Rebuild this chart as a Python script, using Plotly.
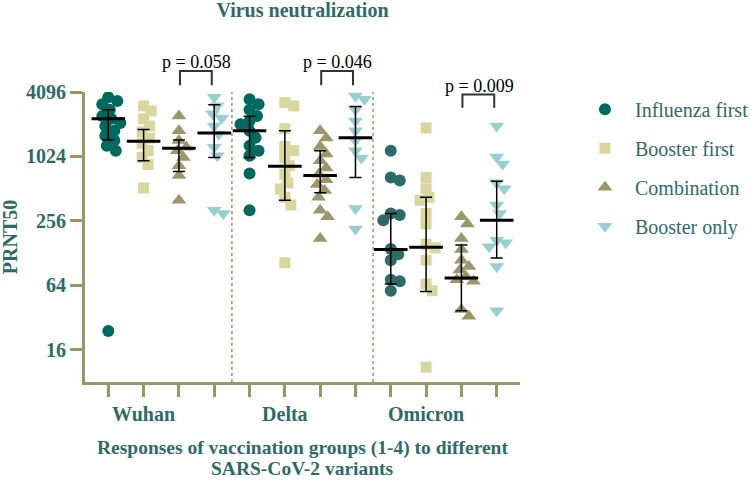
import math
import plotly.graph_objects as go

# ---------------- data ----------------
variants = ["Wuhan", "Delta", "Omicron"]
groups = ["Influenza first", "Booster first", "Combination", "Booster only"]

# PRNT50 values per group, per variant [Wuhan, Delta, Omicron]
influenza_first = [
    [3650, 3380, 3150, 2800, 2450, 2300, 2100, 1975, 1780, 1600, 1440, 1290, 1160, 24],
    [3500, 3150, 2800, 2450, 2200, 2050, 1780, 1530, 1290, 1160, 1040, 710, 322],
    [1160, 650, 610, 300, 290, 260, 140, 125, 110, 72, 70, 57],
]
booster_first = [
    [3040, 2720, 2300, 1975, 1740, 1520, 1360, 1160, 1000, 860, 520],
    [3260, 3040, 1860, 1270, 1160, 1000, 840, 700, 580, 510, 425, 360, 104],
    [1890, 650, 510, 425, 398, 300, 240, 155, 143, 110, 66, 57, 11],
]
combination = [
    [2450, 1780, 1440, 1250, 1160, 1000, 840, 680, 400],
    [1780, 1520, 1270, 1080, 935, 800, 700, 620, 560, 493, 425, 322, 280, 175],
    [280, 240, 175, 138, 110, 96, 89, 77, 72, 70, 38, 33],
]
booster_only = [
    [3650, 3040, 2570, 2330, 1975, 1660, 1250, 1040, 322, 300],
    [3750, 3500, 2800, 2200, 1780, 1440, 1160, 990, 335, 215],
    [1975, 1010, 870, 580, 510, 360, 300, 169, 160, 147, 96, 37],
]

# geometric means and error-bar limits, ordered Wuhan(1-4), Delta(1-4), Omicron(1-4)
geo_mean = [2300, 1420, 1220, 1700, 1780, 830, 680, 1530, 138, 145, 75, 260]
err_low = [1460, 935, 740, 1000, 1000, 400, 470, 650, 66, 56, 37, 115]
err_high = [2800, 1830, 1460, 3120, 2430, 1780, 1160, 3000, 300, 425, 152, 600]

# comparisons (column index pairs) and p-values
comparisons = [(2, 3), (6, 7), (10, 11)]
p_labels = ["p = 0.058", "p = 0.046", "p = 0.009"]

y_ticks = [16, 64, 256, 1024, 4096]
x_title_lines = ["Responses of vaccination groups (1-4) to different", "SARS-CoV-2 variants"]

# ---------------- styles ----------------
TEAL_TXT = "#2e6b68"
OLIVE = "#9b9669"
FONT = "Liberation Serif"
series = [
    (influenza_first, "circle", 12, ["#00695f", "#00695f", "#2d6a68"]),
    (booster_first, "square", 11, ["#d9d6a0"] * 3),
    (combination, "triangle-up", 13, ["#9c976a"] * 3),
    (booster_only, "triangle-down", 13, ["#99cfd0"] * 3),
]

PX_X = 35.3   # pixels per column
PX_Y = 32.3   # pixels per doubling


def swarm(vals, d=9.0, maxoff=12):
    order = sorted(range(len(vals)), key=lambda i: -vals[i])
    placed = []
    offs = [0.0] * len(vals)
    cands = [0.0]
    for k in range(1, int(maxoff / 1.5) + 1):
        cands += [1.5 * k, -1.5 * k]
    for i in order:
        y = math.log2(vals[i]) * PX_Y
        best, bestd = 0.0, -1
        for c in cands:
            md = min([math.hypot(c - px, y - py) for px, py in placed] or [1e9])
            if md >= d:
                best = c
                break
            if md > bestd:
                bestd, best = md, c
        placed.append((best, y))
        offs[i] = best / PX_X
    return offs


fig = go.Figure()

for gi, (data, sym, size, cols) in enumerate(series):
    xs, ys, cs = [], [], []
    for vi, vals in enumerate(data):
        pos = vi * 4 + gi
        offs = swarm(vals)
        xs += [pos + o for o in offs]
        ys += vals
        cs += [cols[vi]] * len(vals)
    fig.add_trace(go.Scatter(
        x=xs, y=ys, mode="markers", name=groups[gi], legendgroup=groups[gi],
        marker=dict(symbol=sym, size=size, color=cs, line=dict(width=0)),
    ))

positions = list(range(len(geo_mean)))
fig.add_trace(go.Scatter(
    x=positions, y=geo_mean, mode="markers", showlegend=False,
    marker=dict(symbol="line-ew", size=24, color="black",
                line=dict(width=3, color="black")),
    error_y=dict(type="data", symmetric=False,
                 array=[h - m for h, m in zip(err_high, geo_mean)],
                 arrayminus=[m - l for l, m in zip(err_low, geo_mean)],
                 color="black", thickness=1.5, width=6),
))

# separators between variants
shapes = []
for sep in [3.5, 7.5]:
    shapes.append(dict(type="line", xref="x", yref="paper", x0=sep, x1=sep, y0=0, y1=1,
                       line=dict(color=OLIVE, width=1.5, dash="dot")))

# brackets with p-values
bracket_levels = [(1.072, 1.023, 1.103), (1.072, 1.023, 1.103), (0.991, 0.946, 1.022)]
annotations = []
for (a, b), lab, (top, bot, ty) in zip(comparisons, p_labels, bracket_levels):
    xa, xb = a + 0.03, b - 0.07
    shapes.append(dict(type="path", xref="x", yref="paper",
                       path=f"M {xa},{bot} L {xa},{top} L {xb},{top} L {xb},{bot}",
                       line=dict(color="#333333", width=2)))
    annotations.append(dict(x=(a + b) / 2, y=ty, xref="x", yref="paper", text=lab,
                            showarrow=False, yanchor="middle",
                            font=dict(family=FONT, size=18, color="black")))

# x-axis title (two tightly spaced lines)
for txt, yy in zip(x_title_lines, [-0.2286, -0.2976]):
    annotations.append(dict(x=0.5, y=yy, xref="paper", yref="paper", text=txt,
                            showarrow=False, xanchor="center", yanchor="middle", height=20,
                            font=dict(family=FONT, size=19.5, color=TEAL_TXT, weight="bold")))
# y-axis title
annotations.append(dict(x=-0.172, y=0.5, xref="paper", yref="paper", text="PRNT50",
                        textangle=-90, showarrow=False, xanchor="center", yanchor="middle",
                        font=dict(family=FONT, size=20, color=TEAL_TXT, weight="bold")))

ticktext = []
for v in variants:
    ticktext += ["", v, "", ""]

fig.update_layout(
    width=750, height=482,
    margin=dict(l=85, r=230, t=92, b=100, autoexpand=False),
    paper_bgcolor="white", plot_bgcolor="white",
    title=dict(text="<b>Virus neutralization</b>", x=0.5, xref="paper",
               y=1 - 9.5 / 482, yref="container", yanchor="middle",
               font=dict(family=FONT, size=20, color=TEAL_TXT)),
    shapes=shapes, annotations=annotations,
    legend=dict(x=1.1264, y=1.008, xanchor="left", yanchor="top",
                font=dict(family=FONT, size=20, color=TEAL_TXT),
                tracegroupgap=10, itemwidth=50, bgcolor="rgba(0,0,0,0)"),
    xaxis=dict(range=[-0.66, 11.66], tickvals=positions, ticktext=ticktext,
               ticks="outside", ticklen=12, tickwidth=3, tickcolor=OLIVE, automargin=False,
               showline=True, linewidth=3, linecolor=OLIVE, showgrid=False, zeroline=False,
               tickfont=dict(family=FONT, size=20, color=TEAL_TXT, weight="bold")),
    yaxis=dict(type="log", range=[math.log10(8), math.log10(4096)], automargin=False,
               tickvals=y_ticks, ticktext=[str(t) for t in y_ticks],
               ticks="outside", ticklen=12, tickwidth=3, tickcolor=OLIVE,
               showline=True, linewidth=3, linecolor=OLIVE, showgrid=False, zeroline=False,
               tickfont=dict(family=FONT, size=20, color=TEAL_TXT, weight="bold")),
)

fig.write_html("out.html", config={"displayModeBar": False},
               post_script="document.body.style.margin='0px';")
